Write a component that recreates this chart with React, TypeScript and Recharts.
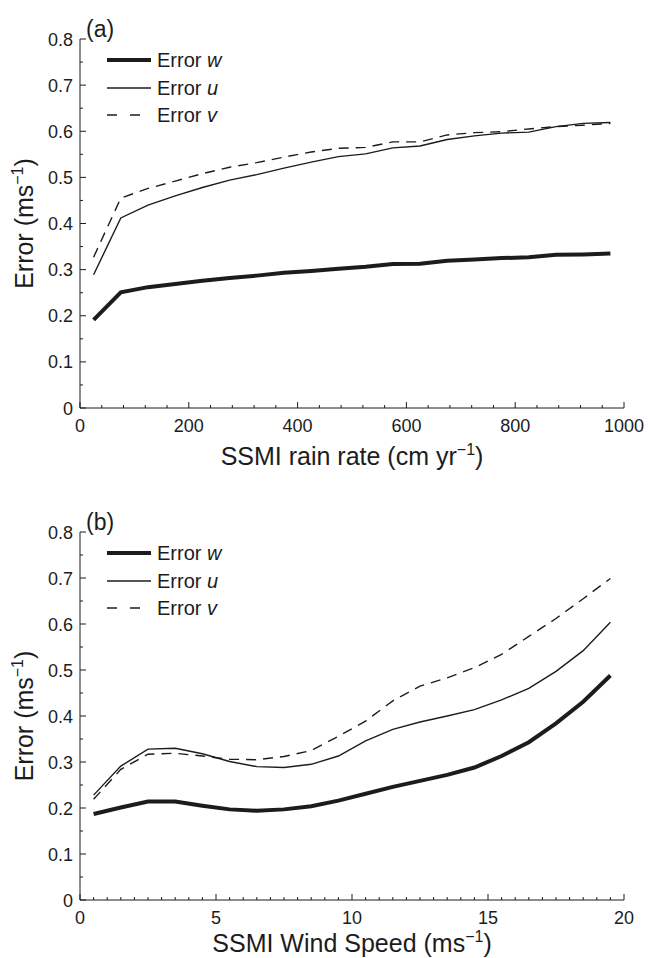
import React from 'react';
import { LineChart, Line, XAxis, YAxis, Label } from 'recharts';

// panel (a): error vs SSMI rain rate
const rainRate = [25, 75, 125, 175, 225, 275, 325, 375, 425, 475, 525, 575, 625, 675, 725, 775, 825, 875, 925, 975];
const rainErrW = [0.191, 0.251, 0.262, 0.269, 0.276, 0.282, 0.287, 0.293, 0.297, 0.302, 0.306, 0.312, 0.313, 0.319, 0.322, 0.325, 0.327, 0.332, 0.333, 0.335];
const rainErrU = [0.289, 0.412, 0.44, 0.46, 0.478, 0.494, 0.506, 0.52, 0.533, 0.545, 0.551, 0.564, 0.568, 0.582, 0.59, 0.596, 0.598, 0.61, 0.617, 0.619];
const rainErrV = [0.327, 0.455, 0.476, 0.492, 0.508, 0.522, 0.532, 0.544, 0.555, 0.563, 0.565, 0.577, 0.577, 0.592, 0.597, 0.599, 0.605, 0.61, 0.613, 0.617];

// panel (b): error vs SSMI wind speed
const windSpeed = [0.5, 1.5, 2.5, 3.5, 4.5, 5.5, 6.5, 7.5, 8.5, 9.5, 10.5, 11.5, 12.5, 13.5, 14.5, 15.5, 16.5, 17.5, 18.5, 19.5];
const windErrW = [0.187, 0.201, 0.214, 0.214, 0.205, 0.197, 0.194, 0.197, 0.204, 0.216, 0.231, 0.246, 0.259, 0.272, 0.288, 0.313, 0.343, 0.384, 0.431, 0.488];
const windErrU = [0.228, 0.291, 0.328, 0.33, 0.318, 0.301, 0.29, 0.288, 0.295, 0.313, 0.346, 0.371, 0.387, 0.4, 0.414, 0.435, 0.46, 0.497, 0.542, 0.604];
const windErrV = [0.219, 0.284, 0.317, 0.319, 0.313, 0.306, 0.305, 0.312, 0.325, 0.356, 0.389, 0.433, 0.465, 0.483, 0.505, 0.534, 0.573, 0.612, 0.655, 0.699];

// tick labels
const rainMajor = [0, 200, 400, 600, 800, 1000];
const windMajor = [0, 5, 10, 15, 20];
const errMajor = [0, 0.1, 0.2, 0.3, 0.4, 0.5, 0.6, 0.7, 0.8];

// minor tick positions
const rainTicks = Array.from({ length: 26 }, (_, i) => i * 40);
const windTicks = Array.from({ length: 41 }, (_, i) => i * 0.5);
const errTicks = Array.from({ length: 17 }, (_, i) => i * 0.05);

const series = [
  { key: 'w', width: 4, dash: undefined },
  { key: 'u', width: 1.4, dash: undefined },
  { key: 'v', width: 1.4, dash: '10 7' },
];

const INK = '#1c1c1c';
const FONT = '"Liberation Sans", Arial, Helvetica, sans-serif';

const rainData = rainRate.map((x, i) => ({ x, w: rainErrW[i], u: rainErrU[i], v: rainErrV[i] }));
const windData = windSpeed.map((x, i) => ({ x, w: windErrW[i], u: windErrU[i], v: windErrV[i] }));

const isIn = (list: number[], v: number) => list.some((m) => Math.abs(m - v) < 1e-6);

const makeXTick = (major: number[]) => (props: any) => {
  const { x, y, payload } = props;
  const big = isIn(major, payload.value);
  return (
    <g>
      <line x1={x} x2={x} y1={y} y2={y - (big ? 6 : 3)} stroke={INK} strokeWidth={1} />
      {big && (
        <text x={x} y={y + 24} textAnchor="middle" fontSize={18} fill={INK} fontFamily={FONT}>
          {payload.value}
        </text>
      )}
    </g>
  );
};

const YTick = (props: any) => {
  const { x, y, payload } = props;
  const big = isIn(errMajor, payload.value);
  return (
    <g>
      <line x1={x} x2={x + (big ? 6 : 3)} y1={y} y2={y} stroke={INK} strokeWidth={1} />
      {big && (
        <text x={x - 7} y={y + 6.5} textAnchor="end" fontSize={18} fill={INK} fontFamily={FONT}>
          {payload.value === 0 ? '0' : payload.value.toFixed(1)}
        </text>
      )}
    </g>
  );
};

const xTitle = (main: string, dy: number) => (props: any) => {
  const vb = props.viewBox || {};
  return (
    <text x={vb.x + vb.width / 2} y={vb.y + dy} textAnchor="middle" fontSize={25} fill={INK} fontFamily={FONT}>
      <tspan>{main}</tspan>
      <tspan dy={-10} fontSize={16}>−1</tspan>
      <tspan dy={10}>)</tspan>
    </text>
  );
};

const yTitle = (props: any) => {
  const vb = props.viewBox || {};
  const cx = 33;
  const cy = vb.y + vb.height / 2;
  return (
    <text x={cx} y={cy} transform={`rotate(-90, ${cx}, ${cy})`} textAnchor="middle" fontSize={25} fill={INK} fontFamily={FONT}>
      <tspan>Error (ms</tspan>
      <tspan dy={-10} fontSize={16}>−1</tspan>
      <tspan dy={10}>)</tspan>
    </text>
  );
};

function LegendBox({ top }: { top: number }) {
  const rows = [
    { name: 'w', width: 4, dash: undefined, y: 0 },
    { name: 'u', width: 1.4, dash: undefined, y: 28 },
    { name: 'v', width: 1.4, dash: '10 13', y: 55 },
  ];
  return (
    <svg width={160} height={80} style={{ position: 'absolute', left: 100, top: top - 10 }}>
      {rows.map((r) => (
        <g key={r.name}>
          <line x1={7} x2={51} y1={r.y + 10} y2={r.y + 10} stroke={INK} strokeWidth={r.width} strokeDasharray={r.dash} />
          <text x={57} y={r.y + 17} fontSize={20} fill={INK} fontFamily={FONT}>
            Error <tspan fontStyle="italic">{r.name}</tspan>
          </text>
        </g>
      ))}
    </svg>
  );
}

function Panel(props: {
  data: any[];
  height: number;
  top: number;
  xTicks: number[];
  xMajor: number[];
  xMax: number;
  xAxisHeight: number;
  title: string;
  titleDy: number;
  tag: string;
}) {
  const { data, height, top, xTicks, xMajor, xMax, xAxisHeight, title, titleDy, tag } = props;
  return (
    <div style={{ position: 'absolute', left: 0, top: 0, width: 648, height: height + top }}>
      <LineChart width={648} height={height} data={data} margin={{ top, right: 24, bottom: 0, left: 0 }}>
        <XAxis
          dataKey="x"
          type="number"
          domain={[0, xMax]}
          ticks={xTicks}
          interval={0}
          tickSize={0}
          tickMargin={0}
          tickLine={false}
          tick={makeXTick(xMajor)}
          axisLine={{ stroke: INK, strokeWidth: 1 }}
          height={xAxisHeight}
        >
          <Label content={xTitle(title, titleDy)} />
        </XAxis>
        <YAxis
          type="number"
          domain={[0, 0.8]}
          ticks={errTicks}
          interval={0}
          tickSize={0}
          tickMargin={0}
          tickLine={false}
          tick={YTick}
          axisLine={{ stroke: INK, strokeWidth: 1 }}
          width={80}
        >
          <Label content={yTitle} />
        </YAxis>
        {series.map((s) => (
          <Line
            key={s.key}
            type="linear"
            dataKey={s.key}
            stroke={INK}
            strokeWidth={s.width}
            strokeDasharray={s.dash}
            dot={false}
            activeDot={false}
            isAnimationActive={false}
          />
        ))}
      </LineChart>
      <div
        style={{
          position: 'absolute',
          left: 86,
          top: top - 23,
          fontFamily: FONT,
          fontSize: 23,
          color: INK,
          lineHeight: '26px',
        }}
      >
        {tag}
      </div>
      <LegendBox top={top + 21} />
    </div>
  );
}

export default function App() {
  return (
    <div style={{ position: 'absolute', left: 0, top: 0, width: 648, height: 958, background: '#fff' }}>
      <div style={{ position: 'absolute', left: 0, top: 0 }}>
        <Panel
          data={rainData}
          height={480}
          top={39}
          xTicks={rainTicks}
          xMajor={rainMajor}
          xMax={1000}
          xAxisHeight={72}
          title="SSMI rain rate (cm yr"
          titleDy={57}
          tag="(a)"
        />
      </div>
      <div style={{ position: 'absolute', left: 0, top: 480 }}>
        <Panel
          data={windData}
          height={478}
          top={52}
          xTicks={windTicks}
          xMajor={windMajor}
          xMax={20}
          xAxisHeight={58}
          title="SSMI Wind Speed (ms"
          titleDy={52}
          tag="(b)"
        />
      </div>
    </div>
  );
}
